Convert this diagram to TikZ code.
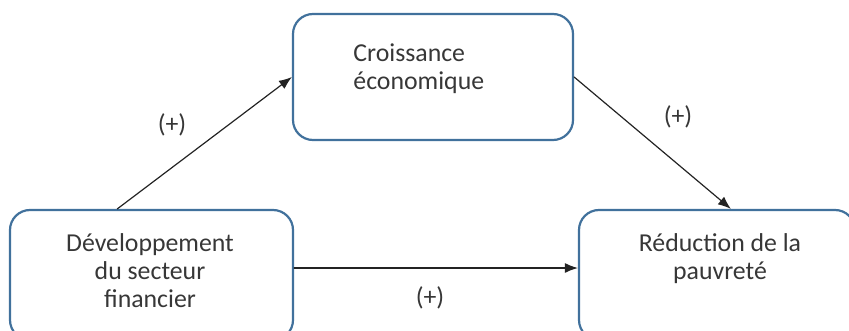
\documentclass[tikz,border=0pt]{standalone}
\usepackage{fontspec}
\setmainfont{Carlito}
\usetikzlibrary{arrows.meta, calc}
\definecolor{boxc}{RGB}{65,113,156}
\definecolor{inkc}{RGB}{55,55,55}
\definecolor{arrc}{RGB}{35,35,35}

\begin{document}
\begin{tikzpicture}[x=0.5pt, y=-0.5pt, >={Latex[length=6.5pt,width=5pt]},
    font=\fontsize{12.9}{14}\selectfont, line cap=round,
    box/.style={draw=boxc, line width=1.1pt, rounded corners=10pt, inner sep=0pt},
    lbl/.style={text=inkc, inner sep=0pt},
    link/.style={->, arrc, line width=0.6pt}]
  \useasboundingbox (0,0) rectangle (849,331);
  \clip (0,0) rectangle (849,331);

  % the three boxes (bottom ones run past the page edge)
  \node[box, minimum width=140pt, minimum height=63pt] (croiss) at (433,77) {};
  \node[box, minimum width=141.5pt, minimum height=65pt] (dev) at (151.5,275) {};
  \node[box, minimum width=138pt, minimum height=65pt] (pauv) at (717,275) {};

  % box texts
  \node[lbl, anchor=north west, align=left] (croisstxt) at (353,43) {Croissance\\économique};
  \node[lbl, anchor=north, align=center] (devtxt) at (150,233) {Développement\\du secteur\\financier};
  \node[lbl, anchor=north, align=center] (pauvtxt) at (720,233) {Réduction de la\\pauvreté};

  % links
  \draw[link] ($(dev.north west)!0.38!(dev.north east)$) -- (croiss.west);
  \draw[link] (croiss.east) -- ($(pauv.north west)!0.55!(pauv.north east)$);
  \draw[link] ($(dev.east)+(0,-7)$) -- ($(pauv.west)+(0,-7)$);

  % signs
  \node[lbl] (s1) at (172,125) {(+)};
  \node[lbl] (s2) at (678,117) {(+)};
  \node[lbl] (s3) at (430,298) {(+)};
\end{tikzpicture}
\end{document}
